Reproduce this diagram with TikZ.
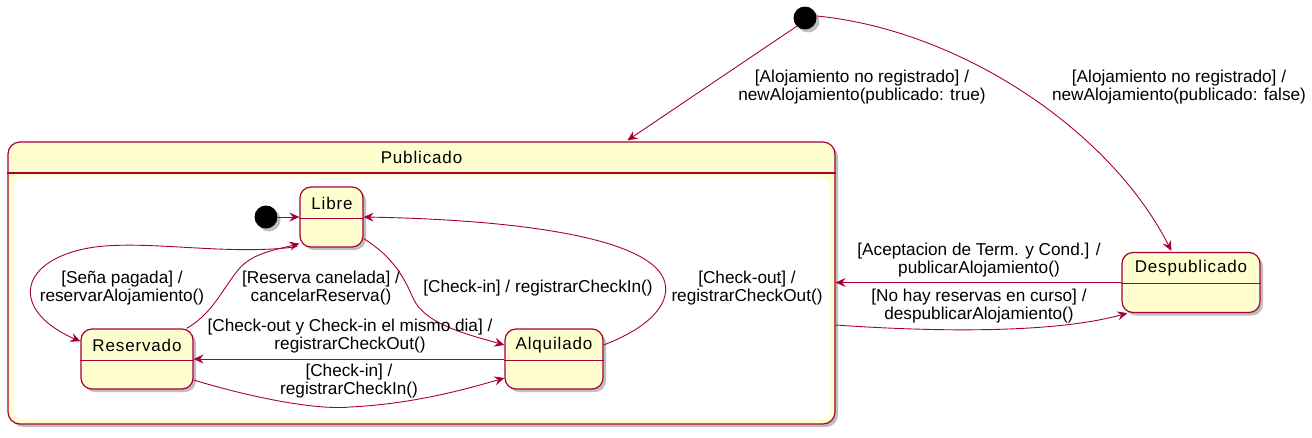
\documentclass[tikz,border=0pt]{standalone}
\usepackage{fontspec}
\setmainfont{Liberation Sans}
\usetikzlibrary{shadows,arrows.meta,calc}
\definecolor{pborder}{HTML}{A80036}
\definecolor{pfill}{HTML}{FEFECE}
\begin{document}
\begin{tikzpicture}[x=1pt,y=-1pt,
  shad/.style={drop shadow={shadow xshift=3pt,shadow yshift=-3pt,opacity=0.25,fill=black}},
  statebox/.style={draw=pborder,line width=1.2pt,fill=pfill,rounded corners=11pt,
    minimum height=60pt,inner sep=0pt,shad},
  sep/.style={pborder,line width=1.2pt},
  initdot/.style={circle,fill=black,minimum size=23pt,inner sep=0pt,shad},
  trans/.style={draw=pborder,line width=0.9pt,-{Stealth[length=10pt,width=9pt,inset=3.5pt]}},
  lbl/.style={font=\fontsize{17.2}{18}\selectfont,align=center,inner sep=0pt},
  stitle/.style={font=\fontsize{17}{20}\selectfont\addfontfeatures{LetterSpace=5},inner sep=0pt},
]
\useasboundingbox (0,0) rectangle (1312,437);

% composite state Publicado
\node[draw=pborder,line width=1.2pt,fill=pfill,rounded corners=12pt,
  minimum width=827pt,minimum height=282pt,inner sep=0pt,shad] (publicado) at (421.5,283) {};
\fill[white,rounded corners=10pt] (14,177) rectangle (830,420);
\draw[sep] (publicado.west |- 0,173) -- (publicado.east |- 0,173);
\node[stitle] (publicadoT) at (421.5,157.5) {Publicado};

% simple states
\node[statebox,minimum width=63pt] (libre) at (331.5,217) {};
\draw[sep] ($(libre.west)+(0,1.5)$) -- ($(libre.east)+(0,1.5)$);
\node[stitle] (libreT) at (332,203.5) {Libre};

\node[statebox,minimum width=112pt] (reservado) at (137,359) {};
\draw[sep] ($(reservado.west)+(0,1.2)$) -- ($(reservado.east)+(0,1.2)$);
\node[stitle] (reservadoT) at (137,345) {Reservado};

\node[statebox,minimum width=98pt] (alquilado) at (554,359) {};
\draw[sep] ($(alquilado.west)+(0,1.5)$) -- ($(alquilado.east)+(0,1.5)$);
\node[stitle] (alquiladoT) at (554,345) {Alquilado};

\node[statebox,minimum width=138pt] (despub) at (1191,282.5) {};
\draw[sep] ($(despub.west)+(0,1)$) -- ($(despub.east)+(0,1)$);
\node[stitle] (despubT) at (1191,268.5) {Despublicado};

% initial states
\node[initdot] (init1) at (805,18) {};
\node[initdot] (init2) at (266,217) {};

% outer transitions
\draw[trans] (init1.225) -- ($(publicado.north west)+(620,-1)$);
\node[lbl] (l1) at (862,87) {[Alojamiento no registrado] /\\newAlojamiento(publicado: true)};

\draw[trans] (init1.10) .. controls (960,30) and (1110,130) .. ($(despub.north west)+(50,-1)$);
\node[lbl] (l2) at (1179,87) {[Alojamiento no registrado] /\\newAlojamiento(publicado: false)};

\draw[trans] (despub.west) -- (publicado.east |- despub.west);
\node[lbl] (l3) at (979,260) {[Aceptacion de Term. y Cond.] /\\publicarAlojamiento()};

\draw[trans] ($(publicado.east)+(0,42)$) .. controls (950,333) and (1060,332) .. ($(despub.south west)+(6,0)$);
\node[lbl] (l4) at (979,306) {[No hay reservas en curso] /\\despublicarAlojamiento()};

% inner transitions
\draw[trans] (init2) -- (libre.west);

\draw[trans] ($(libre.south west)+(-2,-1)$) .. controls (230,256) and (150,240) .. (95,247)
  .. controls (18,258) and (8,310) .. ($(reservado.north west)+(0,13)$);
\node[lbl] (l5) at (122,288.5) {[Seña pagada] /\\reservarAlojamiento()};

\draw[trans] ($(reservado.north east)+(-7,0)$) .. controls (212,314) and (222,290) .. (238,270)
  .. controls (252,253) and (275,250) .. ($(libre.south west)+(0,-4)$);
\node[lbl] (l6) at (321,288.5) {[Reserva canelada] /\\cancelarReserva()};

\draw[trans] ($(libre.south east)+(0,-9)$) .. controls (395,258) and (405,280) .. (413,298)
  .. controls (425,325) and (470,335) .. ($(alquilado.west)+(0,-14)$);
\node[lbl] (l7) at (538,288) {[Check-in] / registrarCheckIn()};

\draw[trans] ($(alquilado.east)+(0,-14)$) .. controls (648,328) and (670,305) .. (665,283)
  .. controls (655,240) and (530,220) .. (libre.east);
\node[lbl] (l8) at (747,288.5) {[Check-out] /\\registrarCheckOut()};

\draw[trans] (alquilado.west) -- (reservado.east);
\node[lbl] (l9) at (350,336.5) {[Check-out y Check-in el mismo dia] /\\registrarCheckOut()};

\draw[trans] ($(reservado.east)+(0,21)$) .. controls (260,400) and (320,410) .. (350,407)
  .. controls (410,404) and (460,391) .. ($(alquilado.west)+(0,19)$);
\node[lbl] (l10) at (349,381.5) {[Check-in] /\\registrarCheckIn()};
\end{tikzpicture}
\end{document}
